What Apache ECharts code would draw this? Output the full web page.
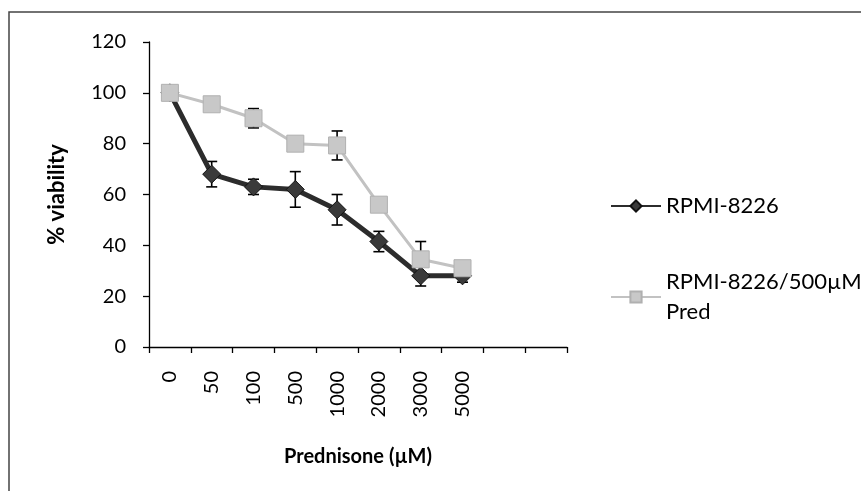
<!DOCTYPE html>
<html>
<head>
<meta charset="utf-8">
<script src="https://cdn.jsdelivr.net/npm/echarts@6/dist/echarts.min.js"></script>
<style>html,body{margin:0;padding:0;background:#fff}#c{width:861px;height:491px}</style>
</head>
<body>
<div id="c"></div>
<script>
const categories = ['0', '50', '100', '500', '1000', '2000', '3000', '5000', '', ''];
const seriesNames = ['RPMI-8226', 'RPMI-8226/500µM Pred'];
const rpmiValues = [100, 68, 63, 62, 54, 41.5, 28, 28];
const rpmiErrors = [0, 5, 3, 7, 6, 4, 4, 2.5];
const predValues = [100, 95.5, 90, 80, 79.3, 56, 34.5, 31];
const predErrors = [0, 2, 3.8, 2, 5.7, 2, 7, 0];
const yTicks = {min: 0, max: 120, interval: 20};

const FONT = 'Lato';
function errData(vals, errs) {
  return vals.map((v, i) => [i, v, errs[i]]);
}
function renderErr(params, api) {
  const x = api.value(0), v = api.value(1), e = api.value(2);
  if (!e) return null;
  const t = api.coord([x, v + e]);
  const b = api.coord([x, v - e]);
  const hw = 5.5;
  const st = {stroke: '#000', lineWidth: 1.6};
  return {
    type: 'group',
    children: [
      {type: 'line', shape: {x1: t[0], y1: t[1], x2: b[0], y2: b[1]}, style: st},
      {type: 'line', shape: {x1: t[0] - hw, y1: t[1], x2: t[0] + hw, y2: t[1]}, style: st},
      {type: 'line', shape: {x1: b[0] - hw, y1: b[1], x2: b[0] + hw, y2: b[1]}, style: st}
    ]
  };
}

const chart = echarts.init(document.getElementById('c'), null, {renderer: 'canvas'});
chart.setOption({
  animation: false,
  backgroundColor: '#fff',
  textStyle: {fontFamily: FONT},
  graphic: [{
    type: 'rect', z: -10,
    shape: {x: 9, y: 12, width: 900, height: 520},
    style: {fill: 'none', stroke: '#444', lineWidth: 1.5}
  }],
  grid: {left: 149, top: 42, width: 418, height: 305},
  legend: [{
    left: 605, top: 190, orient: 'vertical',
    itemWidth: 50, itemHeight: 14,
    data: [seriesNames[0]],
    textStyle: {fontFamily: FONT, fontSize: 22, color: '#000'}
  }, {
    left: 605, top: 247, orient: 'vertical',
    itemWidth: 50, itemHeight: 14,
    data: [seriesNames[1]],
    formatter: function () { return 'RPMI-8226/500µM\nPred'; },
    textStyle: {fontFamily: FONT, fontSize: 22, color: '#000', lineHeight: 30, padding: [30, 0, 0, 0]}
  }],
  xAxis: {
    type: 'category',
    data: categories,
    boundaryGap: true,
    name: 'Prednisone (µM)',
    nameLocation: 'middle',
    nameGap: 100,
    nameTextStyle: {fontFamily: FONT, fontSize: 20, fontWeight: 'bold', color: '#000'},
    axisLine: {lineStyle: {color: '#000', width: 1.3}},
    axisTick: {show: true, length: 6, alignWithLabel: false, interval: 0, lineStyle: {color: '#000', width: 1.3}},
    axisLabel: {interval: 0, rotate: 90, margin: 24, fontFamily: FONT, fontSize: 20, color: '#000'},
    splitLine: {show: false}
  },
  yAxis: {
    type: 'value',
    min: yTicks.min, max: yTicks.max, interval: yTicks.interval,
    name: '% viability',
    nameLocation: 'middle',
    nameGap: 81,
    nameRotate: 90,
    nameTextStyle: {fontFamily: FONT, fontSize: 22, fontWeight: 'bold', color: '#000'},
    axisLine: {show: true, lineStyle: {color: '#000', width: 1.3}},
    axisTick: {show: true, length: 6, lineStyle: {color: '#000', width: 1.3}},
    axisLabel: {margin: 23, fontFamily: FONT, fontSize: 20, color: '#000'},
    splitLine: {show: false}
  },
  series: [{
    name: seriesNames[0],
    type: 'line',
    data: rpmiValues,
    z: 3,
    symbol: 'diamond',
    symbolSize: 18,
    color: '#3a3a3a',
    lineStyle: {color: '#2c2c2c', width: 5},
    itemStyle: {color: '#3a3a3a', borderColor: '#111', borderWidth: 1}
  }, {
    name: seriesNames[1],
    type: 'line',
    data: predValues,
    z: 4,
    symbol: 'rect',
    symbolSize: 17,
    color: '#c4c4c4',
    lineStyle: {color: '#c2c2c2', width: 3},
    itemStyle: {color: '#c8c8c8', borderColor: '#b0b0b0', borderWidth: 1}
  }, {
    type: 'custom',
    name: 'err1',
    z: 1,
    renderItem: renderErr,
    encode: {x: 0, y: 1},
    data: errData(rpmiValues, rpmiErrors),
    silent: true
  }, {
    type: 'custom',
    name: 'err2',
    z: 1,
    renderItem: renderErr,
    encode: {x: 0, y: 1},
    data: errData(predValues, predErrors),
    silent: true
  }]
});
</script>
</body>
</html>
